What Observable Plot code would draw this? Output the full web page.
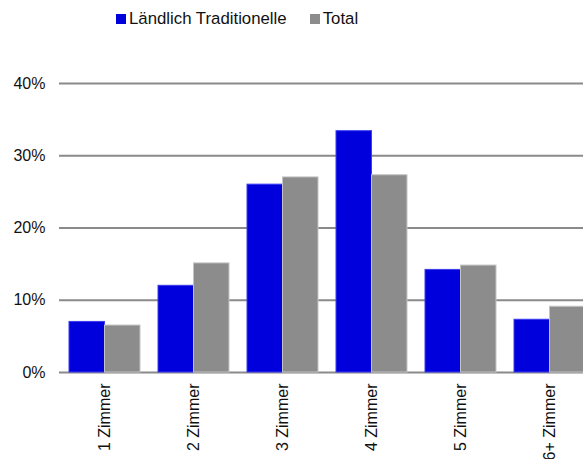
<!DOCTYPE html>
<html>
<head>
<meta charset="utf-8">
<script src="https://cdn.jsdelivr.net/npm/d3@7"></script>
<script src="https://cdn.jsdelivr.net/npm/@observablehq/plot@0.6"></script>
<style>
  html, body { margin: 0; padding: 0; width: 583px; height: 459px; overflow: hidden; background: #fff; }
  #wrap { position: relative; width: 583px; height: 459px; overflow: hidden; }
  #chart svg { max-width: none !important; }
  #legend { position: absolute; left: 116px; top: 9px; display: flex; align-items: center;
            font-family: "Liberation Sans", Arial, sans-serif; font-size: 16.8px; color: #111; }
  .sw { display: inline-block; width: 10px; height: 10px; margin-right: 3px; }
  .item { display: flex; align-items: center; margin-right: 23px; }
</style>
</head>
<body>
<div id="wrap">
  <div id="chart"></div>
  <div id="legend"></div>
</div>
<script>
const categories = ["1 Zimmer", "2 Zimmer", "3 Zimmer", "4 Zimmer", "5 Zimmer", "6+ Zimmer"];
const seriesNames = ["Ländlich Traditionelle", "Total"];
const laendlich = [7.0, 12.0, 26.0, 33.4, 14.2, 7.3];
const total = [6.5, 15.1, 27.0, 27.3, 14.8, 9.1];
const yTicks = [0, 10, 20, 30, 40];
const colors = ["#0000dc", "#8c8c8c"];

const data = categories.flatMap((c, i) => [
  {cat: c, series: seriesNames[0], value: laendlich[i]},
  {cat: c, series: seriesNames[1], value: total[i]}
]);

const W = 595, ML = 59, pad = 0.205;
const half = ((W - ML) / categories.length) * (1 - pad) / 2;

const chart = Plot.plot({
  width: W,
  height: 459,
  marginTop: 83,
  marginBottom: 87,
  marginLeft: ML,
  marginRight: 0,
  style: {fontFamily: "'Liberation Sans', Arial, sans-serif", fontSize: "16px", color: "#111", background: "#fff", maxWidth: "none"},
  x: {domain: categories, paddingInner: pad, paddingOuter: pad / 2, label: null},
  y: {domain: [0, 40], label: null},
  marks: [
    Plot.ruleY(yTicks, {stroke: "#8a8a8a", strokeWidth: 2, strokeOpacity: 1}),
    Plot.barY(data.filter(d => d.series === seriesNames[0]), {x: "cat", y: "value", fill: colors[0], stroke: "#3c3cf0", strokeWidth: 1, insetRight: half}),
    Plot.barY(data.filter(d => d.series === seriesNames[1]), {x: "cat", y: "value", fill: colors[1], stroke: "#c4c4c4", strokeWidth: 1, insetLeft: half}),
    Plot.axisY({ticks: yTicks, tickFormat: d => d + "%", tickSize: 0, tickPadding: 14, fontSize: 16, label: null}),
    Plot.axisX({tickSize: 0, tickPadding: 11, tickRotate: -90, fontSize: 16, label: null})
  ]
});
document.getElementById("chart").appendChild(chart);

const legend = document.getElementById("legend");
seriesNames.forEach((n, i) => {
  const it = document.createElement("span");
  it.className = "item";
  const sw = document.createElement("span");
  sw.className = "sw";
  sw.style.background = colors[i];
  it.appendChild(sw);
  it.appendChild(document.createTextNode(n));
  legend.appendChild(it);
});
</script>
</body>
</html>
